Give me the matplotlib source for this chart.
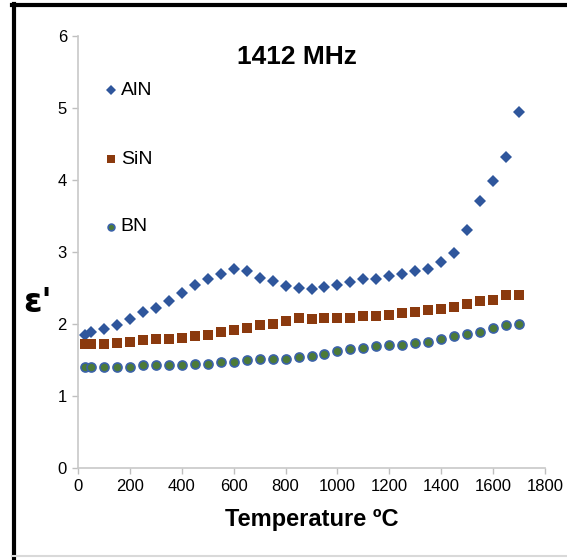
"""Permittivity vs temperature at 1412 MHz for AlN, SiN and BN."""

import matplotlib
matplotlib.use("Agg")
import matplotlib.pyplot as plt
from matplotlib.lines import Line2D
from matplotlib import font_manager

# temperature points (deg C)
temperature = [25, 50] + list(range(100, 1701, 50))

aln = [1.85, 1.89, 1.93, 1.99, 2.07, 2.16, 2.22, 2.32, 2.43, 2.54, 2.62,
       2.69, 2.76, 2.74, 2.64, 2.60, 2.53, 2.50, 2.49, 2.51, 2.54, 2.58,
       2.62, 2.62, 2.67, 2.69, 2.73, 2.77, 2.86, 2.98, 3.30, 3.71, 3.99,
       4.32, 4.94]
sin = [1.72, 1.72, 1.72, 1.74, 1.75, 1.78, 1.79, 1.79, 1.81, 1.83, 1.85,
       1.89, 1.92, 1.94, 1.98, 2.00, 2.04, 2.08, 2.07, 2.08, 2.09, 2.09,
       2.11, 2.11, 2.13, 2.15, 2.17, 2.19, 2.21, 2.23, 2.28, 2.32, 2.34,
       2.40, 2.40]
bn = [1.40, 1.40, 1.40, 1.40, 1.40, 1.43, 1.43, 1.43, 1.43, 1.45, 1.45,
      1.47, 1.47, 1.50, 1.51, 1.51, 1.51, 1.54, 1.56, 1.59, 1.63, 1.65,
      1.67, 1.69, 1.71, 1.71, 1.73, 1.75, 1.79, 1.83, 1.86, 1.89, 1.94,
      1.98, 2.00]

series_names = ["AlN", "SiN", "BN"]
x_ticks = list(range(0, 1801, 200))
y_ticks = list(range(0, 7))

names = {f.name for f in font_manager.fontManager.ttflist}
narrow = "Liberation Sans Narrow" if "Liberation Sans Narrow" in names else "Liberation Sans"
plt.rcParams["font.family"] = [narrow, "DejaVu Sans"]

fig = plt.figure(figsize=(5.67, 5.60), dpi=100)
ax = fig.add_axes([0.1376, 0.1643, 0.8236, 0.7714])

styles = [
    dict(marker="D", color="#2f569c", markersize=6.5, markeredgewidth=0),
    dict(marker="s", color="#8b3a0e", markersize=7, markeredgewidth=0),
    dict(marker="o", color="#4c7a38", markersize=6.5, markeredgecolor="#3b62a8",
         markeredgewidth=1.2),
]
for vals, st in zip([aln, sin, bn], styles):
    ax.plot(temperature, vals, linestyle="none", **st)

ax.set_xlim(0, 1800)
ax.set_ylim(0, 6)
ax.set_xticks(x_ticks)
ax.set_yticks(y_ticks)
ax.tick_params(axis="both", labelsize=12, color="#bfbfbf", length=4,
               width=1, pad=4)
for side in ("top", "right"):
    ax.spines[side].set_visible(False)
for side in ("left", "bottom"):
    ax.spines[side].set_color("#c8c8c8")
    ax.spines[side].set_linewidth(1.2)

ax.set_xlabel("Temperature ºC", fontsize=17, fontweight="bold", labelpad=10)
fig.text(0.066, 0.46, "ε'", fontsize=24, fontweight="bold",
         family=["DejaVu Sans"], ha="center", va="center")
fig.text(0.524, 0.898, "1412 MHz", fontsize=19, fontweight="bold",
         ha="center", va="center")

# legend entries stacked at the left of the plot
legend_y = [0.839, 0.716, 0.595]
for name, st, yy in zip(series_names, styles, legend_y):
    small = dict(st)
    small["markersize"] = st["markersize"] * 0.75
    fig.add_artist(Line2D([0.195], [yy], linestyle="none", **small))
    fig.text(0.213, yy, name, fontsize=14, va="center", ha="left")

# outer frame: thick black on top and left, light gray on the bottom
fig.add_artist(Line2D([0.022, 1.0], [0.991, 0.991], color="black", lw=3))
fig.add_artist(Line2D([0.024, 0.024], [0.0, 0.993], color="black", lw=3))
fig.add_artist(Line2D([0.022, 1.0], [0.007, 0.007], color="#d9d9d9", lw=1.5))

fig.savefig("out.png", dpi=100)
